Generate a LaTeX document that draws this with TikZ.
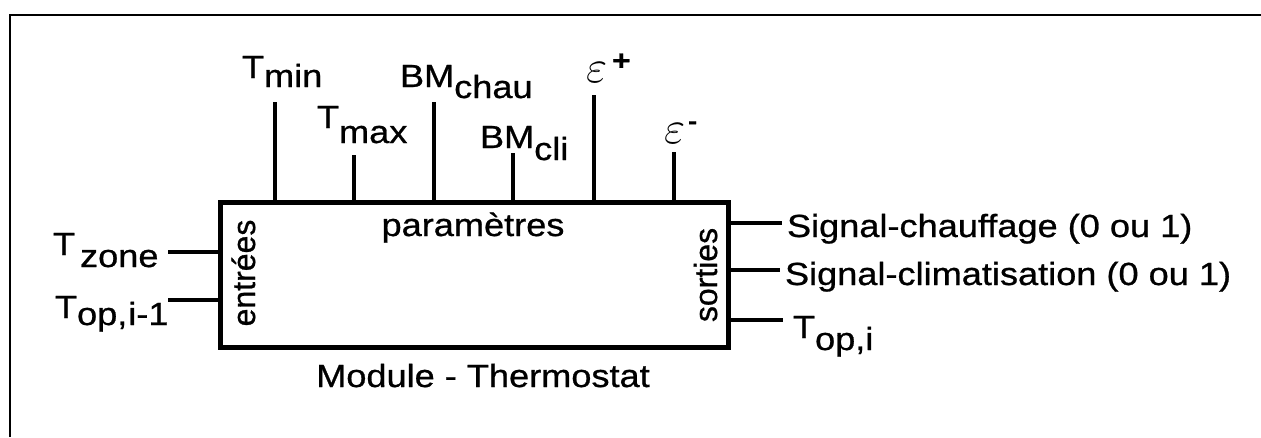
\RequirePackage{fix-cm}
\documentclass[tikz,border=0pt]{standalone}
\usepackage{fontspec}
\setmainfont{Liberation Sans}[FakeStretch=1.13,FakeBold=0.8]
\newfontfamily\vfont{Liberation Sans}[FakeBold=0.8]
\begin{document}
\begin{tikzpicture}[x=1pt,y=-1pt,
  every node/.style={inner sep=0pt, outer sep=0pt, font=\fontsize{32}{36}\selectfont},
  frameline/.style={line width=2pt},
  blockbox/.style={draw, line width=4.5pt, minimum width=508pt, minimum height=145pt},
  wire/.style={line width=4pt},
  lbl/.style={anchor=base west},
  vlbl/.style={rotate=90, anchor=base, font=\vfont\fontsize{32}{36}\selectfont},
  eps/.style={anchor=base west}]
\useasboundingbox (0,0) rectangle (1261,437);
% frame (top and left)
\draw[frameline] (10,437) -- (10,15) -- (1261,15);
% main block
\node[blockbox] (box) at (474.5,275) {};
% parameter stubs
\coordinate (cmin) at (275,102);
\coordinate (cmax) at (354,155);
\coordinate (cchau) at (434,102);
\coordinate (ccli) at (513,153);
\coordinate (cep) at (594,95);
\coordinate (cem) at (674,152);
\foreach \c in {cmin,cmax,cchau,ccli,cep,cem}
  \draw[wire] (\c) -- (\c |- box.north);
% inputs
\coordinate (izone) at (168,252);
\coordinate (iop) at (168,300);
\draw[wire] (izone) -- (izone -| box.west);
\draw[wire] (iop) -- (iop -| box.west);
% outputs
\coordinate (ochau) at (782,223);
\coordinate (ocli) at (780,270);
\coordinate (oop) at (783,320);
\draw[wire] (ochau -| box.east) -- (ochau);
\draw[wire] (ocli -| box.east) -- (ocli);
\draw[wire] (oop -| box.east) -- (oop);
% parameter labels
\node[lbl] (ltmin) at (242,78) {T\raisebox{-9pt}{min}};
\node[lbl] (ltmax) at (317,128) {T\raisebox{-15pt}{max}};
\node[lbl] (lchau) at (400,87) {BM\raisebox{-11pt}{chau}};
\node[lbl] (lcli) at (480,148) {BM\raisebox{-12pt}{cli}};
\node[eps] (lep) at (586,82) {{\fontsize{46}{46}\selectfont$\varepsilon$}\kern5pt\raisebox{12pt}{\fontsize{28}{28}\selectfont\bfseries +}};
\node[eps] (lem) at (664,143) {{\fontsize{46}{46}\selectfont$\varepsilon$}\kern3pt\raisebox{14pt}{\fontsize{24}{24}\selectfont\bfseries -}};
% input labels
\node[lbl] (lzone) at (53,255) {T\kern5pt\raisebox{-12pt}{zone}};
\node[lbl] (ltop1) at (55,318) {T\raisebox{-7pt}{op,\kern1pt i-1}};
% output labels
\node[lbl] (lsch) at (787,237) {Signal-chauffage (0 ou 1)};
\node[lbl] (lscl) at (785,285) {Signal-climatisation (0 ou 1)};
\node[lbl] (ltop) at (793,338) {T\raisebox{-12pt}{op,i}};
% inside labels
\node[anchor=base] (lpar) at (473,236) {paramètres};
\node[vlbl] (lent) at (255,273) {entrées};
\node[vlbl] (lsor) at (717,275) {sorties};
\node[anchor=base] (lmod) at (483,387) {Module - Thermostat};
\end{tikzpicture}
\end{document}
